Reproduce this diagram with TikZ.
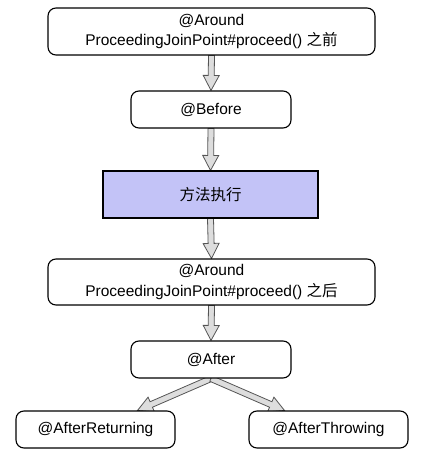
\documentclass[tikz,border=0pt]{standalone}
\usepackage{fontspec}
\setmainfont{Liberation Sans}
\newfontfamily\cjk{Noto Sans CJK SC}
\usetikzlibrary{calc,backgrounds}
\definecolor{lav}{HTML}{C3C3F7}
\definecolor{arrfill}{HTML}{DDDDDD}
\definecolor{arrline}{HTML}{555555}
\tikzset{
  txt/.style={font=\fontsize{15.5}{20.5}\selectfont},
  rbox/.style={txt, draw=black, line width=1.1pt, fill=white, rounded corners=8pt, inner sep=0pt, align=center},
  sbox/.style={txt, draw=black, line width=1.1pt, fill=lav, inner sep=0pt, align=center},
  blockstyle/.style={draw=arrline, fill=arrfill, line width=0.8pt, line join=miter},
}
\newcommand\blockarr[2]{%
  \path ($(#2)!15pt!(#1)$) coordinate (hb);
  \draw[blockstyle] ($(#1)!3pt!90:(#2)$) -- ($(hb)!3pt!90:(#2)$) -- ($(hb)!8pt!90:(#2)$) -- (#2) -- ($(hb)!8pt!-90:(#2)$) -- ($(hb)!3pt!-90:(#2)$) -- ($(#1)!3pt!-90:(#2)$) -- cycle;}
\begin{document}
\begin{tikzpicture}[x=1pt,y=-1pt]
\useasboundingbox (0,0) rectangle (428,458);
\node[rbox, minimum width=327pt, minimum height=47pt] (b1) at (211.5,31.5) {@Around\\ProceedingJoinPoint\#proceed() {\cjk 之前}};
\node[rbox, minimum width=160pt, minimum height=37pt] (b2) at (211,109.5) {@Before};
\node[sbox, minimum width=215pt, minimum height=47pt] (b3) at (210.5,194.5) {{\cjk 方法执行}};
\node[rbox, minimum width=327pt, minimum height=46pt] (b4) at (211.5,282) {@Around\\ProceedingJoinPoint\#proceed() {\cjk 之后}};
\node[rbox, minimum width=160pt, minimum height=37pt] (b5) at (211,359.5) {@After};
\node[rbox, minimum width=159pt, minimum height=37pt] (b6) at (95.5,429.5) {@AfterReturning};
\node[rbox, minimum width=159pt, minimum height=37pt] (b7) at (328.5,429.5) {@AfterThrowing};
\coordinate (t6) at ($(b6.north)+(42,0)$);
\coordinate (t7) at ($(b7.north)+(-44,0)$);
\begin{scope}[on background layer]
\blockarr{b1.south}{b2.north}
\blockarr{b2.south}{b3.north}
\blockarr{b3.south}{b4.north}
\blockarr{b4.south}{b5.north}
\blockarr{b5.south}{t6}
\blockarr{b5.south}{t7}
\end{scope}
\end{tikzpicture}
\end{document}
